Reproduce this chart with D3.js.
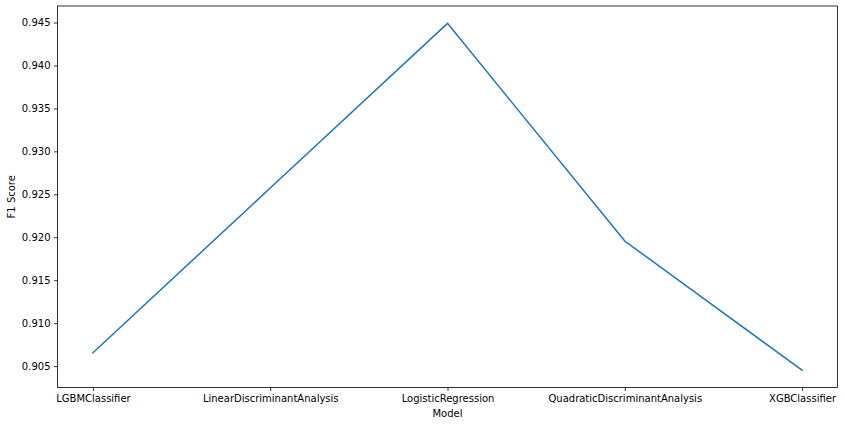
<!DOCTYPE html>
<html><head><meta charset="utf-8">
<script src="https://cdn.jsdelivr.net/npm/d3@7"></script>
<style>body{margin:0;background:#fff;} text{font-family:"DejaVu Sans",sans-serif;}</style>
</head><body>
<svg id="c" width="845" height="425"></svg>
<script>
const models = ["LGBMClassifier","LinearDiscriminantAnalysis","LogisticRegression","QuadraticDiscriminantAnalysis","XGBClassifier"];
const f1Scores = [0.90656, 0.92573, 0.94490, 0.91956, 0.90453];
const yTicks = [0.905,0.910,0.915,0.920,0.925,0.930,0.935,0.940,0.945];

const svg = d3.select("#c");
const L=57.5, R=837.5, T=6, B=387.5;
const x = d3.scaleLinear().domain([-0.2, 4.2]).range([L,R]);
const ymin=d3.min(f1Scores), ymax=d3.max(f1Scores), pad=(ymax-ymin)*0.05;
const y = d3.scaleLinear().domain([ymin-pad, ymax+pad]).range([B,T]);

const line = d3.line().x((d,i)=>x(i)).y(d=>y(d));
svg.append("path").datum(f1Scores).attr("d",line)
  .attr("fill","none").attr("stroke","#1f77b4").attr("stroke-width",1.5)
  .attr("stroke-linejoin","round").attr("stroke-linecap","square");

const xAxis = d3.axisBottom(x).tickValues(d3.range(models.length)).tickFormat(i=>models[i]).tickSize(3.5).tickPadding(3.5);
const gx = svg.append("g").attr("transform",`translate(0,${B})`).call(xAxis);
const yAxis = d3.axisLeft(y).tickValues(yTicks).tickFormat(d3.format(".3f")).tickSize(3.5).tickPadding(3.5);
const gy = svg.append("g").attr("transform",`translate(${L},0)`).call(yAxis);
[gx,gy].forEach(g=>{
  g.select(".domain").remove();
  g.selectAll(".tick line").attr("stroke","#000").attr("stroke-width",0.8);
  g.selectAll(".tick text").attr("fill","#000").attr("font-size","10px").attr("font-family","DejaVu Sans");
});
svg.append("rect").attr("x",L).attr("y",T).attr("width",R-L).attr("height",B-T)
  .attr("fill","none").attr("stroke","#000").attr("stroke-width",0.8);

svg.append("text").attr("x",(L+R)/2).attr("y",417).attr("text-anchor","middle").attr("font-size","10px").text("Model");
svg.append("text").attr("transform",`translate(15,${(T+B)/2}) rotate(-90)`).attr("text-anchor","middle").attr("font-size","10px").text("F1 Score");
</script>
</body></html>
